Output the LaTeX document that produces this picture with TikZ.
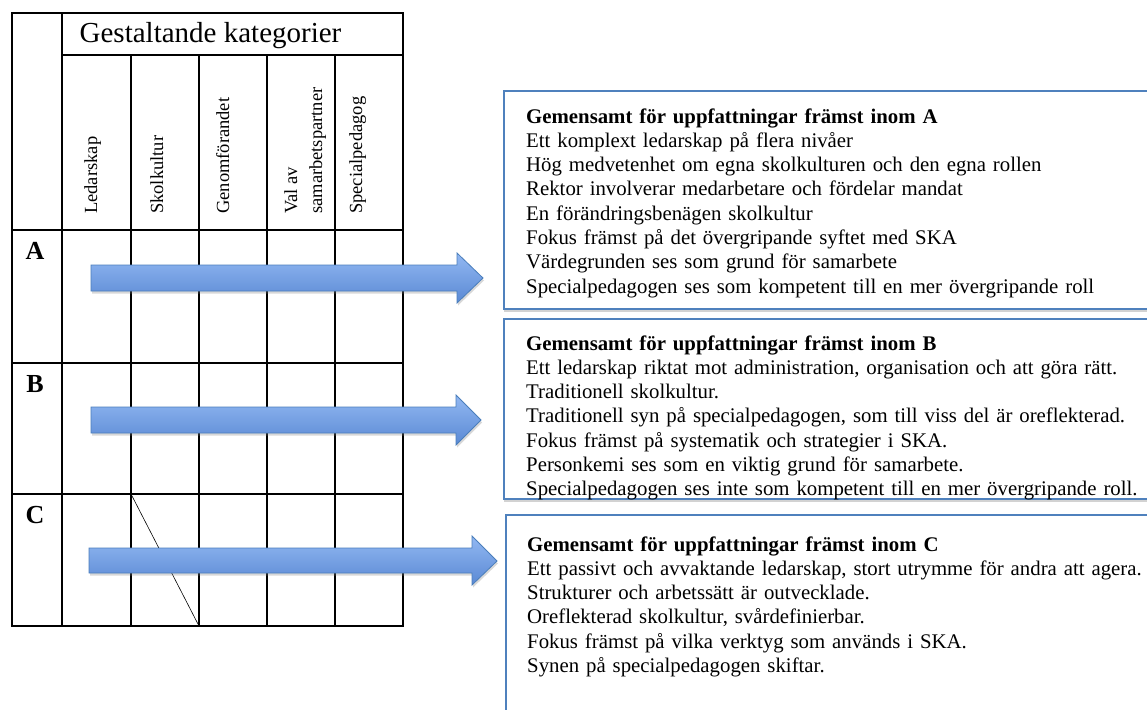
\documentclass[tikz,border=0pt]{standalone}
\usepackage{fontspec}
\setmainfont{Liberation Serif}
\usetikzlibrary{shadows}
\definecolor{boxblue}{HTML}{4F81BD}
\definecolor{arrtop}{HTML}{92B8F2}
\definecolor{arrbot}{HTML}{5A89D4}
\definecolor{arredge}{HTML}{4A7EBB}
\begin{document}
\begin{tikzpicture}[x=1pt,y=-1pt,
  grid/.style={line width=1.3pt, black},
  diag/.style={line width=0.6pt, black},
  bigarrow/.style={top color=arrtop, bottom color=arrbot, draw=arredge, line width=0.8pt,
    drop shadow={shadow xshift=1pt, shadow yshift=-2.5pt, opacity=0.3}},
  infobox/.style={draw=boxblue, line width=1.8pt, fill=white,
    drop shadow={shadow xshift=0pt, shadow yshift=-3pt, opacity=0.35}},
  boxtext/.style={anchor=base west, inner sep=0pt, text width=700pt, align=left,
    font=\fontsize{20.8}{24.3}\selectfont},
  collabel/.style={rotate=90, anchor=base west, inner sep=0pt, font=\fontsize{18.5}{22}\selectfont},
  rowlabel/.style={anchor=base, inner sep=0pt, font=\bfseries\fontsize{26}{30}\selectfont},
  headlabel/.style={anchor=base, inner sep=0pt, font=\fontsize{29}{34}\selectfont},
]
\useasboundingbox (0,0) rectangle (1147,709);
\fill[white] (0,0) rectangle (1147,709);
\clip (0,0) rectangle (1147,709);

% ---------- table ----------
\draw[grid] (12,13) rectangle (403,626);
\draw[grid] (62,13) -- (62,626);
\draw[grid] (62,55) -- (403,55);
\foreach \x in {131,199,267,335} \draw[grid] (\x,55) -- (\x,626);
\foreach \y in {230,363,494} \draw[grid] (12,\y) -- (403,\y);
\coordinate (dtop) at (131,494);
\coordinate (dbot) at (199,626);
\draw[diag] (dtop) -- (dbot);

\node[headlabel] (head) at (210.5,42) {Gestaltande kategorier};
\node[collabel] (c1) at (97,214) {Ledarskap};
\node[collabel] (c2) at (163,214) {Skolkultur};
\node[collabel] (c3) at (229,214) {Genomförandet};
\node[collabel] (c4a) at (297,214) {Val av};
\node[collabel] (c4b) at (322,214) {samarbetspartner};
\node[collabel] (c5) at (362,214) {Specialpedagog};

\node[rowlabel] (rA) at (35,259) {A};
\node[rowlabel] (rB) at (35,392) {B};
\node[rowlabel] (rC) at (35,523) {C};

% ---------- boxes ----------
\draw[infobox] (504,91) rectangle (1165,309);
\draw[infobox] (504,319) rectangle (1165,499);
\draw[infobox] (506,515) rectangle (1165,740);

\node[boxtext] (tA) at (526,123) {\textbf{Gemensamt för uppfattningar främst inom A}\\
Ett komplext ledarskap på flera nivåer\\
Hög medvetenhet om egna skolkulturen och den egna rollen\\
Rektor involverar medarbetare och fördelar mandat\\
En förändringsbenägen skolkultur\\
Fokus främst på det övergripande syftet med SKA\\
Värdegrunden ses som grund för samarbete\\
Specialpedagogen ses som kompetent till en mer övergripande roll};

\node[boxtext] (tB) at (526,350) {\textbf{Gemensamt för uppfattningar främst inom B}\\
Ett ledarskap riktat mot administration, organisation och att göra rätt.\\
Traditionell skolkultur.\\
Traditionell syn på specialpedagogen, som till viss del är oreflekterad.\\
Fokus främst på systematik och strategier i SKA.\\
Personkemi ses som en viktig grund för samarbete.\\
Specialpedagogen ses inte som kompetent till en mer övergripande roll.};

\node[boxtext] (tC) at (527,551) {\textbf{Gemensamt för uppfattningar främst inom C}\\
Ett passivt och avvaktande ledarskap, stort utrymme för andra att agera.\\
Strukturer och arbetssätt är outvecklade.\\
Oreflekterad skolkultur, svårdefinierbar.\\
Fokus främst på vilka verktyg som används i SKA.\\
Synen på specialpedagogen skiftar.};

% ---------- arrows ----------
\draw[bigarrow] (91,265) -- (457,265) -- (457,253) -- (483,278) -- (457,303) -- (457,291) -- (91,291) -- cycle;
\draw[bigarrow] (91,407) -- (456,407) -- (456,395) -- (481,420) -- (456,445) -- (456,433) -- (91,433) -- cycle;
\draw[bigarrow] (89,548) -- (472,548) -- (472,536) -- (497,561) -- (472,585) -- (472,573) -- (89,573) -- cycle;
\end{tikzpicture}
\end{document}
